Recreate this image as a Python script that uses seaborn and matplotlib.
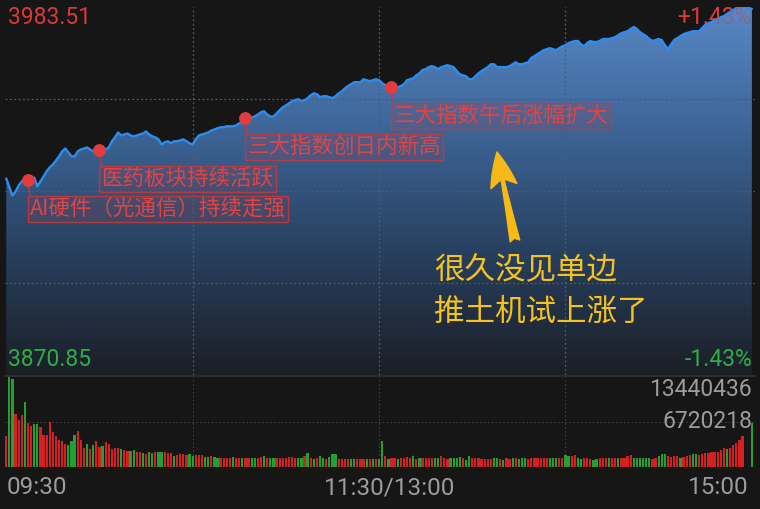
import numpy as np
import pandas as pd
import matplotlib
matplotlib.use("Agg")
import matplotlib.pyplot as plt
from matplotlib.colors import LinearSegmentedColormap
from matplotlib.patches import PathPatch
import seaborn as sns

# ==========================================================
# DATOS
# ==========================================================
prev_close = 3927.18
y_top = 3983.51
y_bottom = 3870.85
vol_max = 13440436

# índice por minuto: 0 = 09:30, 120 = 11:30/13:00, 240 = 15:00
price = [
    3931.0, 3928.3, 3925.8, 3927.0, 3928.9, 3930.1, 3931.0, 3930.4, 3931.0, 3931.3,
    3928.6, 3930.1, 3931.6, 3933.2, 3934.4, 3935.3, 3936.5, 3937.8, 3939.3, 3940.2,
    3939.0, 3937.8, 3937.8, 3939.3, 3939.9, 3940.2, 3940.5, 3939.9, 3939.3, 3939.6,
    3939.6, 3939.6, 3939.9, 3940.5, 3942.4, 3943.6, 3945.1, 3944.2, 3944.5, 3944.8,
    3944.2, 3943.9, 3944.2, 3944.5, 3944.8, 3945.4, 3944.5, 3943.9, 3943.6, 3943.0,
    3941.4, 3942.1, 3942.4, 3941.8, 3942.4, 3942.4, 3942.7, 3943.0, 3942.4, 3941.8,
    3941.4, 3943.0, 3944.2, 3944.5, 3944.8, 3945.1, 3945.7, 3946.0, 3946.4, 3946.7,
    3946.7, 3947.0, 3947.0, 3947.0, 3947.3, 3947.9, 3948.5, 3949.4, 3949.4, 3949.7,
    3950.0, 3950.6, 3951.3, 3951.6, 3950.6, 3950.0, 3950.0, 3950.9, 3951.9, 3952.8,
    3953.4, 3954.0, 3954.7, 3955.0, 3955.3, 3954.7, 3955.0, 3955.6, 3956.5, 3957.1,
    3956.8, 3955.9, 3956.2, 3956.2, 3955.9, 3955.6, 3956.2, 3957.1, 3957.7, 3958.6,
    3959.3, 3959.9, 3960.5, 3960.5, 3960.5, 3961.4, 3961.1, 3960.8, 3961.1, 3961.4,
    3961.1, 3960.2, 3959.6, 3959.3, 3958.9, 3958.9, 3958.9, 3959.3, 3959.9, 3961.1,
    3961.4, 3961.7, 3962.6, 3963.2, 3964.2, 3964.5, 3965.1, 3965.4, 3965.1, 3964.5,
    3965.1, 3965.4, 3965.7, 3965.4, 3965.1, 3963.9, 3962.9, 3962.6, 3962.3, 3961.4,
    3961.4, 3962.3, 3963.2, 3963.9, 3964.5, 3965.1, 3966.0, 3966.0, 3965.1, 3965.1,
    3965.1, 3965.1, 3965.4, 3966.0, 3966.6, 3966.0, 3966.0, 3966.3, 3966.6, 3967.9,
    3968.5, 3969.1, 3969.7, 3970.3, 3970.6, 3970.9, 3970.6, 3970.3, 3970.9, 3971.5,
    3971.8, 3972.5, 3972.8, 3973.1, 3973.1, 3972.1, 3971.5, 3972.5, 3973.1, 3972.8,
    3972.8, 3973.1, 3973.7, 3973.7, 3973.7, 3974.0, 3974.3, 3974.9, 3975.5, 3975.8,
    3976.1, 3976.8, 3977.4, 3976.8, 3975.8, 3975.2, 3974.6, 3973.7, 3973.1, 3973.4,
    3973.7, 3973.4, 3971.8, 3970.6, 3972.1, 3973.4, 3974.0, 3974.6, 3975.2, 3975.5,
    3975.8, 3976.1, 3976.1, 3976.1, 3977.1, 3978.0, 3978.6, 3978.9, 3979.5, 3979.8,
    3980.4, 3980.7, 3981.4, 3982.0, 3982.6, 3983.2, 3983.5, 3983.5, 3983.5, 3983.2,
    3982.9,
]

# volumen en miles
vol_k = [
    4630, 13440, 13140, 7920, 7020, 7770, 9710, 6570, 6120, 6420,
    6420, 5970, 4780, 4780, 6720, 5230, 4630, 4030, 3880, 3430,
    3290, 3880, 4780, 5380, 4030, 2840, 3430, 2690, 3290, 3880,
    2990, 3140, 3730, 3430, 2690, 2840, 2840, 2690, 2540, 2390,
    2390, 2540, 2240, 2240, 2090, 1940, 2240, 2090, 2240, 2240,
    2240, 2240, 2090, 2090, 1640, 1790, 1940, 1940, 1790, 1940,
    1640, 1790, 1790, 1790, 1490, 1490, 1640, 1490, 1340, 1340,
    1340, 1340, 1340, 1490, 1340, 1340, 1340, 1340, 1340, 1340,
    1340, 1340, 1490, 1640, 1340, 1340, 1340, 1340, 1340, 1340,
    1340, 1490, 1490, 1340, 1340, 1340, 1640, 2090, 1340, 1190,
    1340, 1640, 1340, 1190, 1490, 1940, 1940, 1190, 1190, 1190,
    1190, 1190, 1190, 1190, 1190, 1190, 1190, 1190, 1190, 1190,
    1190,
    3880, 1640, 1190, 1340, 1340, 1190, 1340, 1340, 1490, 1340,
    1640, 1190, 1340, 1340, 1340, 1340, 1340, 1340, 1340, 1640,
    1340, 1190, 1340, 1340, 1340, 1490, 1340, 1050, 1640, 1340,
    1340, 1340, 1190, 1190, 1190, 1190, 1340, 1340, 1190, 1050,
    1340, 1190, 1340, 1340, 1190, 1340, 1340, 1190, 1340, 1340,
    1340, 1340, 1340, 1340, 1340, 1340, 1340, 1340, 1340, 1790,
    1640, 1640, 1790, 1340, 1190, 1340, 1340, 1190, 1050, 1190,
    1340, 1340, 1340, 1340, 1340, 1340, 1340, 1340, 1340, 1640,
    1790, 1340, 1340, 1340, 1340, 1340, 1340, 1190, 1340, 1640,
    1940, 1940, 1640, 1490, 1640, 1640, 1340, 1490, 1640, 1790,
    1940, 1940, 1790, 1940, 2090, 2090, 2240, 2240, 2240, 2540,
    2840, 2690, 2840, 3290, 3580, 4030, 4630, 0, 0, 6570,
]

# R = sube (rojo), G = baja (verde)
vol_dir = (
    "RGGRRRGRRG" "GRRRRRRRRR" "GGGRRRGRGR" "RGRRRRRGRR" "GGRRGRGGRG"
    "GRRRGRRRRG" "GRRRGGRGGR" "RRRGRRGRRG" "GRRGRGGRRR" "RRRRGGRGRG"
    "RGGRGGGRRR" "RGGRRRGRGRG"
    "GRGRRGRRRR" "GRGRRRRGGR" "RRGGGGRGGR" "RRRRRRGGRG" "RRGRGGGRRR"
    "RRRRGGGRRG" "GRRGGRRRGG" "RRRGRRGRRR" "RGGGGGGRRG" "GGRRRRGRRR"
    "GGRRRRRRRR" "RGRRRRRRRG"
)

# notas sobre la línea: (minuto, texto)
note_minutes = [7, 30, 77, 124]
note_texts = ["AI硬件（光通信）持续走强", "医药板块持续活跃", "三大指数创日内新高", "三大指数午后涨幅扩大"]

time_labels = ["09:30", "11:30/13:00", "15:00"]
comment_lines = ["很久没见单边", "推土机试上涨了"]

minutes = np.arange(len(price))
df_price = pd.DataFrame({"minute": minutes, "price": price})
df_vol = pd.DataFrame({"minute": minutes, "vol": np.array(vol_k) * 1000, "dir": list(vol_dir)})

# ==========================================================
# ESTILO
# ==========================================================
bg = "#161616"
red = "#d42020"
green = "#22a032"
txt_red = "#d9393b"
txt_green = "#2fae46"
gray = "#9c9c9c"
grid_c = "#5a5a5a"

sns.set_theme(style="dark")
plt.rcParams["font.family"] = ["Noto Sans CJK SC", "DejaVu Sans"]
plt.rcParams["axes.unicode_minus"] = False
num_font = ["Roboto", "DejaVu Sans"]

W, H = 760, 509
fig = plt.figure(figsize=(W / 100, H / 100), dpi=100, facecolor=bg)

ax = fig.add_axes([5 / W, 1 - 375 / H, 750 / W, 368 / H])
axv = fig.add_axes([5 / W, 1 - 466.7 / H, 750 / W, 90 / H])

for a in (ax, axv):
    a.set_facecolor(bg)
    a.set_xlim(-0.4, 241)
    a.set_xticks([])
    a.set_yticks([])
    a.set_xlabel("")
    a.set_ylabel("")
    for s in a.spines.values():
        s.set_visible(False)

# ==========================================================
# PANEL DE PRECIO
# ==========================================================
ax.set_ylim(y_bottom, y_top)

# relleno en degradado bajo la línea
fill = ax.fill_between(df_price["minute"], df_price["price"], y_bottom, color="none")
path = fill.get_paths()[0]
cmap = LinearSegmentedColormap.from_list("fade", ["#1b1f26", "#28405f", "#3d6597", "#5888c6"])
grad = np.linspace(1, 0, 256).reshape(-1, 1)
im = ax.imshow(grad, extent=[-0.4, 241, y_bottom, y_top], aspect="auto", cmap=cmap,
               origin="upper", zorder=1)
clip = PathPatch(path, transform=ax.transData, facecolor="none", edgecolor="none")
ax.add_patch(clip)
im.set_clip_path(clip)
ax.set_xlim(-0.4, 241)
ax.set_ylim(y_bottom, y_top)

sns.lineplot(data=df_price, x="minute", y="price", color="#2c8cf0", linewidth=1.7, ax=ax, zorder=3)
ax.set_xlabel("")
ax.set_ylabel("")

# líneas de rejilla punteadas
for m in [60, 120, 180]:
    ax.axvline(m, color=grid_c, lw=0.9, ls=(0, (1.5, 2)), zorder=2)
for q in [0.25, 0.5, 0.75]:
    ax.axhline(y_bottom + q * (y_top - y_bottom), color=grid_c, lw=0.9, ls=(0, (1.5, 2)), zorder=2)

# notas rojas
for m, t in zip(note_minutes, note_texts):
    ax.annotate(t, xy=(m, price[m]), xytext=(1.5, -20.5), textcoords="offset points",
                ha="left", va="center", fontsize=15.5, color="#e04444", zorder=6,
                bbox=dict(boxstyle="square,pad=0.1", fc=(0.85, 0.2, 0.2, 0.13),
                          ec=(0.8, 0.22, 0.22, 0.85), lw=1),
                arrowprops=dict(arrowstyle="-", color=(0.8, 0.22, 0.22, 0.85), lw=1,
                                relpos=(0, 1), shrinkA=0, shrinkB=0))
    ax.scatter([m], [price[m]], s=85, color="#e33b3e", zorder=7, linewidths=0)

# ==========================================================
# PANEL DE VOLUMEN
# ==========================================================
sns.barplot(data=df_vol, x="minute", y="vol", hue="dir", palette={"R": red, "G": green},
            native_scale=True, dodge=False, width=0.72, saturation=1, legend=False,
            errorbar=None, linewidth=0, ax=axv)
axv.set_xlim(-0.4, 241)
axv.set_ylim(0, vol_max)
axv.set_xlabel("")
axv.set_ylabel("")
axv.set_xticks([])
axv.set_yticks([])
for m in [60, 120, 180]:
    axv.axvline(m, color="#3e3e3e", lw=0.8, ls=(0, (1.5, 2)), zorder=0)
axv.axhline(vol_max / 2, color="#3e3e3e", lw=0.8, ls=(0, (1.5, 2)), zorder=0)

# línea separadora entre paneles
fig.add_artist(plt.Line2D([5 / W, 755 / W], [1 - 375.5 / H, 1 - 375.5 / H], color="#333333", lw=1.2))

# ==========================================================
# TEXTOS
# ==========================================================
def px(x, y):
    return x / W, 1 - y / H

fs = 16.5
fig.text(*px(8, 18), f"{y_top:.2f}", color=txt_red, fontsize=fs, ha="left", va="center", family=num_font)
# "+1.43%" queda parcialmente bajo el relleno
ax.text(752, H - 18, "+1.43%", transform=None, color=txt_red, fontsize=fs, ha="right", va="center",
        family=num_font, zorder=0.5)
fig.text(*px(752, 18), "+1.43%", color=txt_red, fontsize=fs, ha="right", va="center",
         family=num_font, alpha=0.35)
fig.text(*px(8, 360), f"{y_bottom:.2f}", color=txt_green, fontsize=fs, ha="left", va="center", family=num_font)
fig.text(*px(752, 360), "-1.43%", color=txt_green, fontsize=fs, ha="right", va="center", family=num_font)
fig.text(*px(752, 390), str(vol_max), color=gray, fontsize=fs, ha="right", va="center", family=num_font)
fig.text(*px(752, 421), str(vol_max // 2), color=gray, fontsize=fs, ha="right", va="center", family=num_font)

fs_t = 17.5
fig.text(*px(7, 488), time_labels[0], color=gray, fontsize=fs_t, ha="left", va="center", family=num_font)
fig.text(*px(390, 488), time_labels[1], color=gray, fontsize=fs_t, ha="center", va="center", family=num_font)
fig.text(*px(749, 488), time_labels[2], color=gray, fontsize=fs_t, ha="right", va="center", family=num_font)

# comentario amarillo con flecha
fig.text(*px(434, 271), comment_lines[0], color="#f6c21c", fontsize=22, ha="left", va="center")
fig.text(*px(434, 312), comment_lines[1], color="#f6c21c", fontsize=22, ha="left", va="center")
ax.annotate("", xy=(497, H - 152), xycoords="figure pixels",
            xytext=(515, H - 241), textcoords="figure pixels",
            arrowprops=dict(arrowstyle="fancy,head_length=1.25,head_width=0.95,tail_width=0.35",
                            color="#f6b915", mutation_scale=20, shrinkA=0, shrinkB=0))

fig.savefig("out.png", dpi=100, facecolor=bg)
